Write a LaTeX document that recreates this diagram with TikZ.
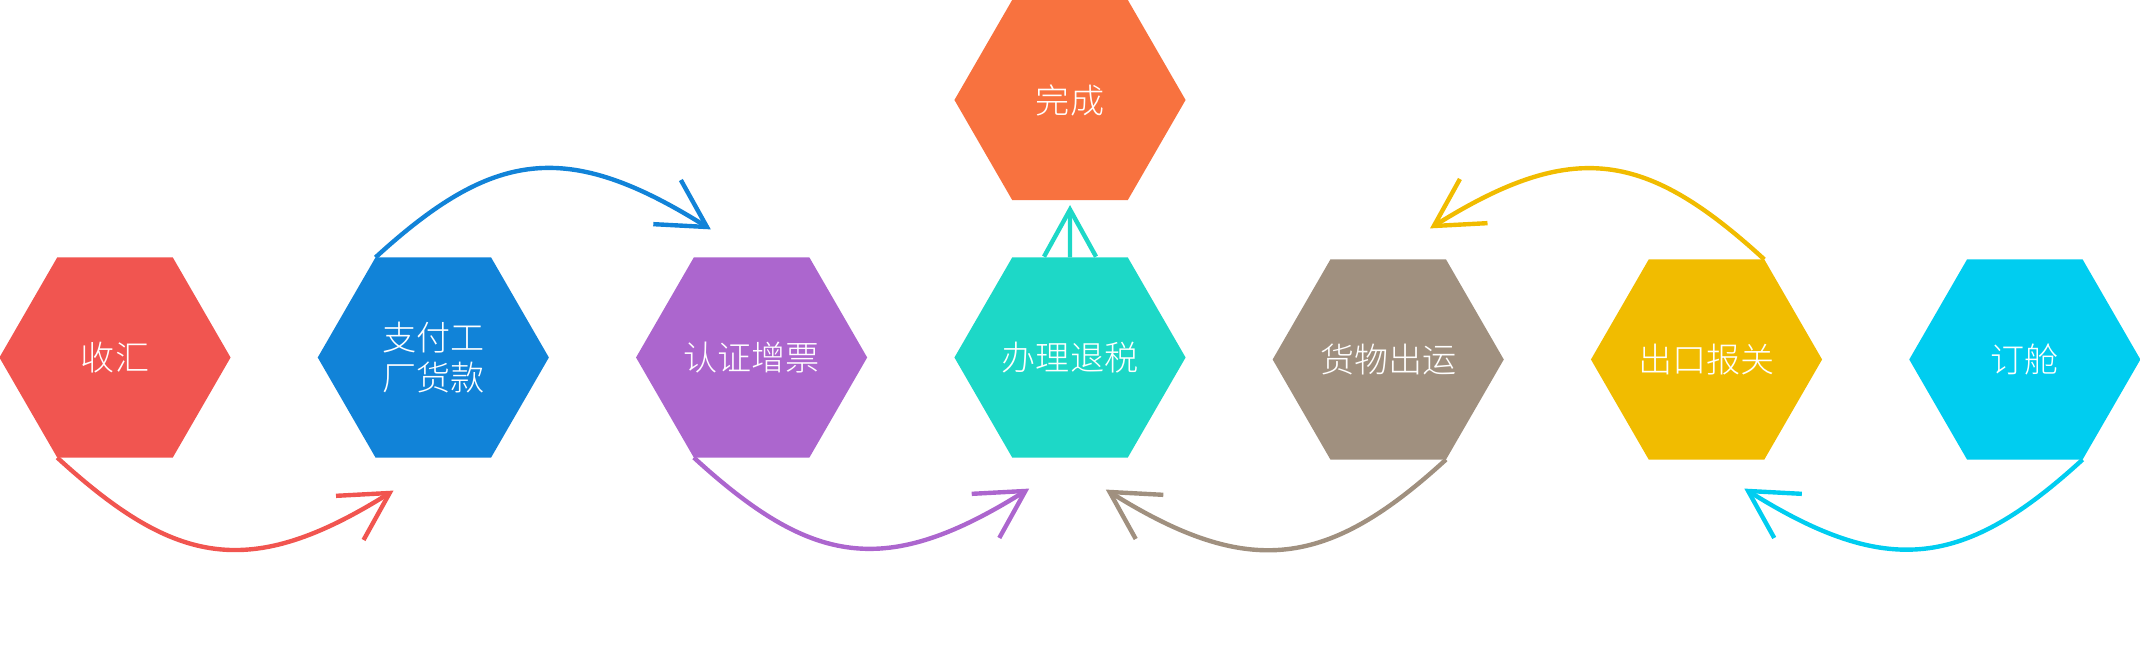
\documentclass[tikz,border=0pt]{standalone}
\usepackage{fontspec}
\IfFontExistsTF{Noto Sans CJK SC Light}
  {\newfontfamily\cjk{Noto Sans CJK SC Light}}
  {\newfontfamily\cjk{Noto Sans CJK SC}}
\usetikzlibrary{shapes.geometric,arrows.meta}

\definecolor{cRed}{HTML}{F15550}
\definecolor{cBlue}{HTML}{1183D8}
\definecolor{cPurple}{HTML}{AC66CE}
\definecolor{cTeal}{HTML}{1DD8C7}
\definecolor{cOrange}{HTML}{F8723F}
\definecolor{cTaupe}{HTML}{A0907F}
\definecolor{cYellow}{HTML}{F1BC00}
\definecolor{cCyan}{HTML}{00CDF0}

\tikzset{
  hexbox/.style={regular polygon, regular polygon sides=6, minimum size=2.31cm,
    inner sep=0pt, outer sep=0pt, text=white, align=center,
    font=\cjk\fontsize{9.7}{11.4}\selectfont},
  flow/.style={line width=1.25pt, -{Straight Barb[length=0.47cm,width=0.52cm]}}
}

\begin{document}
\begin{tikzpicture}[x=0.01cm, y=0.01cm]
\useasboundingbox (0,0) rectangle (2140,670);

\node[hexbox, fill=cRed] (shouhui) at (115,312.5) {收汇};

\node[hexbox, fill=cBlue] (zhifu) at (433.3,312.5) {支付工\\厂货款};

\node[hexbox, fill=cPurple] (renzheng) at (751.6,312.5) {认证增票};

\node[hexbox, fill=cTeal] (banli) at (1070,312.5) {办理退税};

\node[hexbox, fill=cOrange] (wancheng) at (1070,570) {完成};

\node[hexbox, fill=cTaupe] (huowu) at (1388.2,310.5) {货物出运};

\node[hexbox, fill=cYellow] (chukou) at (1706.5,310.5) {出口报关};

\node[hexbox, fill=cCyan] (dingcang) at (2024.8,310.5) {订舱};

% lower and upper arcs, left half
\draw[flow, cRed] (shouhui.240) .. controls +(118,-108) and +(-144,-90) .. ([shift={(18,-33)}]zhifu.240);
\draw[flow, cBlue] (zhifu.120) .. controls +(118,108) and +(-144,90) .. ([shift={(17,28)}]renzheng.120);
\draw[flow, cPurple] (renzheng.240) .. controls +(118,-108) and +(-144,-90) .. ([shift={(17,-31)}]banli.240);
\coordinate (donetip) at ([shift={(0,-5)}]wancheng.south);
\draw[flow, cTeal] (banli.north) -- (donetip);

% right half runs back to the left
\draw[flow, cCyan] (dingcang.300) .. controls +(-118,-108) and +(144,-90) .. ([shift={(-20,-29)}]chukou.300);
\draw[flow, cYellow] (chukou.60) .. controls +(-118,108) and +(144,90) .. ([shift={(-16,31)}]huowu.60);
\draw[flow, cTaupe] (huowu.300) .. controls +(-118,-108) and +(144,-90) .. ([shift={(-22,-32)}]banli.300);
\end{tikzpicture}
\end{document}
